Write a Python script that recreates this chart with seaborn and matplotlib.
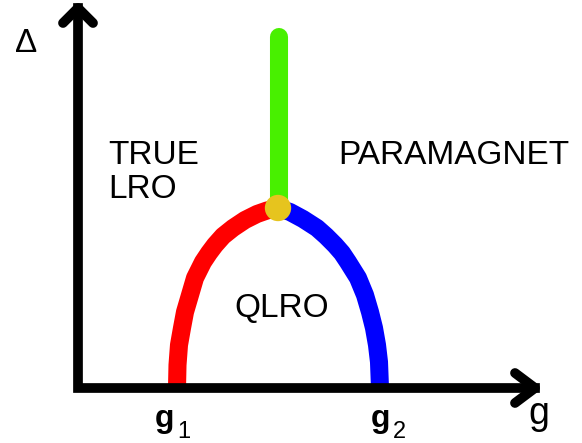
import numpy as np
import pandas as pd
import matplotlib
matplotlib.use("Agg")
import matplotlib.pyplot as plt
import seaborn as sns

# Phase boundary data (g, Delta)
red_g = [0.99, 0.995, 1.01, 1.04, 1.07, 1.12, 1.17, 1.25, 1.31, 1.37, 1.45,
         1.55, 1.67, 1.79, 1.89, 2.00]
red_d = [0.00, 0.23, 0.43, 0.60, 0.76, 0.93, 1.10, 1.26, 1.35, 1.43, 1.52,
         1.60, 1.68, 1.74, 1.775, 1.80]
blue_g = [2.00, 2.12, 2.25, 2.39, 2.48, 2.57, 2.64, 2.70, 2.80, 2.87, 2.92,
          2.96, 2.99, 3.01, 3.02]
blue_d = [1.80, 1.76, 1.69, 1.60, 1.52, 1.43, 1.35, 1.26, 1.10, 0.93, 0.76,
          0.60, 0.43, 0.26, 0.00]
green_g = [2.01, 2.01]
green_d = [1.80, 3.51]
bicrit_g = [2.00]
bicrit_d = [1.80]

phase_labels = ["TRUE\nLRO", "PARAMAGNET", "QLRO"]
tick_main = ["g", "g"]
tick_sub = ["1", "2"]
tick_pos = [0.865, 3.02]

sns.set_style("white")
plt.rcParams["font.family"] = ["Liberation Sans", "DejaVu Sans"]

fig = plt.figure(figsize=(5.82, 4.43), dpi=100)
ax = fig.add_axes([0, 0, 1, 1])
ax.set_xlim(-0.78, 5.04)
ax.set_ylim(-0.55, 3.88)
ax.axis("off")

lw = 13
red = pd.DataFrame({"g": red_g, "d": red_d})
blue = pd.DataFrame({"g": blue_g, "d": blue_d})
green = pd.DataFrame({"g": green_g, "d": green_d})
sns.lineplot(data=red, x="g", y="d", sort=False, estimator=None, color="#ff0000",
             lw=lw, ax=ax, solid_capstyle="butt", solid_joinstyle="round", zorder=2)
sns.lineplot(data=blue, x="g", y="d", sort=False, estimator=None, color="#0000ff",
             lw=lw, ax=ax, solid_capstyle="butt", solid_joinstyle="round", zorder=2)
sns.lineplot(data=green, x="g", y="d", sort=False, estimator=None, color="#48f000",
             lw=lw, ax=ax, solid_capstyle="round", zorder=2)
sns.scatterplot(x=bicrit_g, y=bicrit_d, s=360, color="#e6c41e", edgecolor="none",
                ax=ax, zorder=4)

# axes with arrows
alw = 7
ax.plot([0, 0, 4.57], [3.80, 0, 0], color="black", lw=alw,
        solid_capstyle="projecting", solid_joinstyle="miter", zorder=3)
ax.plot([-0.15, 0, 0.15], [3.65, 3.80, 3.65], color="black", lw=alw,
        solid_capstyle="round", solid_joinstyle="round", zorder=3)
ax.plot([4.37, 4.57, 4.37], [0.15, 0, -0.15], color="black", lw=alw,
        solid_capstyle="round", solid_joinstyle="round", zorder=3)

ax.text(-0.52, 3.36, "Δ", fontsize=24, ha="center", va="baseline", color="black")
ax.text(4.605, -0.36, "g", fontsize=27, ha="center", va="baseline", color="black")
ax.text(0.30, 2.155, phase_labels[0], fontsize=24, ha="left", va="center",
        linespacing=1.1, color="black")
ax.text(2.60, 2.32, phase_labels[1], fontsize=24, ha="left", va="center",
        color="black")
ax.text(2.04, 0.795, phase_labels[2], fontsize=24, ha="center", va="center",
        color="black")
for p, m, s in zip(tick_pos, tick_main, tick_sub):
    ax.text(p, -0.39, m, fontsize=23, fontweight="bold", ha="center",
            va="baseline", color="black")
    ax.text(p + 0.13, -0.505, s, fontsize=17, ha="left", va="baseline",
            color="black")

fig.savefig("out.png", dpi=100)
